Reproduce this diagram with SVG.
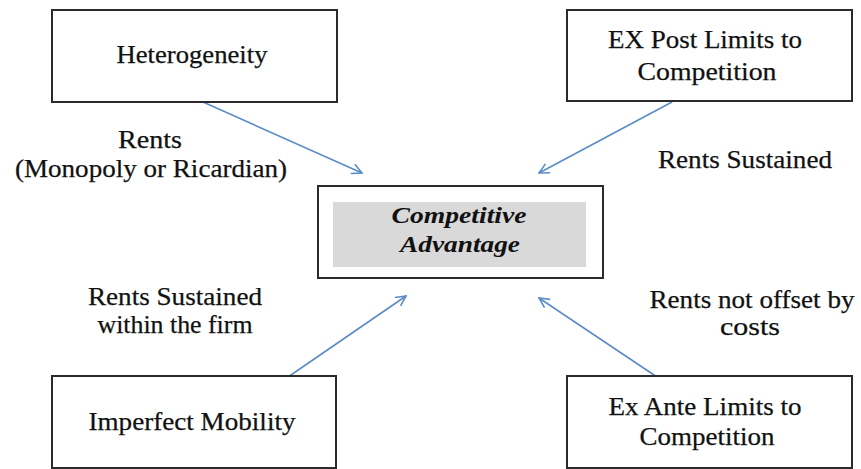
<svg xmlns="http://www.w3.org/2000/svg" width="861" height="469" viewBox="0 0 861 469">
  <style>
    .box { fill: #ffffff; stroke: #2b2b2b; stroke-width: 2; }
    text { font-family: 'Liberation Serif', 'DejaVu Serif', 'Times New Roman', serif; }
    .t { font-size: 26px; fill: #111; stroke: #111; stroke-width: 0.25; text-anchor: middle; }
    .ca { font-size: 23px; font-style: italic; font-weight: bold; fill: #111; text-anchor: middle; }
    .arrow { stroke: #5b8cc6; stroke-width: 1.6; fill: none; marker-end: url(#head); }
  </style>
  <defs>
    <marker id="head" viewBox="0 0 12 12" refX="11" refY="6" markerWidth="12" markerHeight="12" markerUnits="userSpaceOnUse" orient="auto">
      <path d="M1,1 L11,6 L1,11" fill="none" stroke="#5b8cc6" stroke-width="1.6"/>
    </marker>
  </defs>

  <g id="connectors">
    <line class="arrow" x1="203" y1="102" x2="362" y2="173"/>
    <line class="arrow" x1="672" y1="102" x2="539" y2="173"/>
    <line class="arrow" x1="288" y1="377" x2="406" y2="296"/>
    <line class="arrow" x1="657" y1="377" x2="539" y2="298"/>
  </g>

  <g id="heterogeneity">
    <rect class="box" x="52" y="10" width="285" height="92"/>
    <text class="t" x="192" y="63" textLength="151" lengthAdjust="spacingAndGlyphs">Heterogeneity</text>
  </g>

  <g id="ex-post">
    <rect class="box" x="567" y="10" width="285" height="91"/>
    <text class="t" x="705" y="48" textLength="194" lengthAdjust="spacingAndGlyphs">EX Post Limits to</text>
    <text class="t" x="707" y="80" textLength="139" lengthAdjust="spacingAndGlyphs">Competition</text>
  </g>

  <g id="competitive-advantage">
    <rect class="box" x="318" y="186" width="285" height="92"/>
    <rect x="333" y="202" width="253" height="65" fill="#d9d9d9"/>
    <text class="ca" x="459" y="223" textLength="135" lengthAdjust="spacingAndGlyphs">Competitive</text>
    <text class="ca" x="460" y="252" textLength="120" lengthAdjust="spacingAndGlyphs">Advantage</text>
  </g>

  <g id="imperfect-mobility">
    <rect class="box" x="52" y="376" width="284" height="92"/>
    <text class="t" x="192" y="430" textLength="207" lengthAdjust="spacingAndGlyphs">Imperfect Mobility</text>
  </g>

  <g id="ex-ante">
    <rect class="box" x="567" y="376" width="285" height="92"/>
    <text class="t" x="705" y="415" textLength="193" lengthAdjust="spacingAndGlyphs">Ex Ante Limits to</text>
    <text class="t" x="707" y="445" textLength="135" lengthAdjust="spacingAndGlyphs">Competition</text>
  </g>

  <g id="labels">
    <text class="t" x="150" y="148" textLength="64" lengthAdjust="spacingAndGlyphs">Rents</text>
    <text class="t" x="151" y="177" textLength="272" lengthAdjust="spacingAndGlyphs">(Monopoly or Ricardian)</text>
    <text class="t" x="745" y="168" textLength="174" lengthAdjust="spacingAndGlyphs">Rents Sustained</text>
    <text class="t" x="175" y="305" textLength="174" lengthAdjust="spacingAndGlyphs">Rents Sustained</text>
    <text class="t" x="175" y="333" textLength="155" lengthAdjust="spacingAndGlyphs">within the firm</text>
    <text class="t" x="752" y="308" textLength="205" lengthAdjust="spacingAndGlyphs">Rents not offset by</text>
    <text class="t" x="750" y="335" textLength="60" lengthAdjust="spacingAndGlyphs">costs</text>
  </g>
</svg>
